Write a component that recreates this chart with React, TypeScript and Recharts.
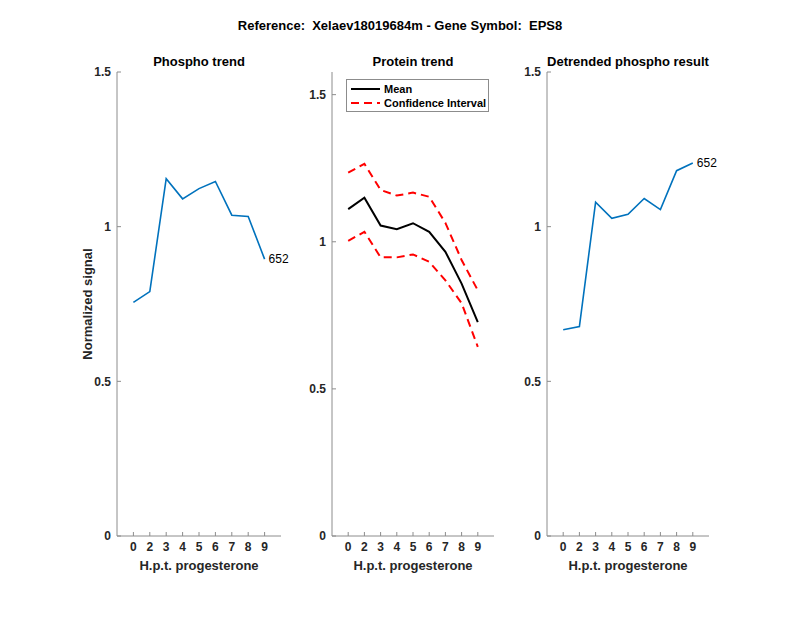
import React from "react";
import { Legend, Line, LineChart, XAxis, YAxis } from "recharts";

const hours = ["0", "2", "3", "4", "5", "6", "7", "8", "9"];
const phospho = [0.755, 0.79, 1.155, 1.09, 1.123, 1.146, 1.037, 1.033, 0.895];
const proteinMean = [1.111, 1.15, 1.055, 1.043, 1.063, 1.034, 0.966, 0.858, 0.727];
const proteinUpper = [1.235, 1.265, 1.176, 1.157, 1.167, 1.153, 1.064, 0.938, 0.835];
const proteinLower = [1.003, 1.034, 0.947, 0.947, 0.957, 0.932, 0.869, 0.791, 0.643];
const detrended = [0.667, 0.677, 1.079, 1.027, 1.04, 1.091, 1.055, 1.181, 1.206];
const yTicks = [0, 0.5, 1, 1.5];
const peptideId = "652";

const FONT = "'Liberation Sans', Arial, sans-serif";
const INK = "#262626";
const AXIS = "#8c8c8c";
const BLUE = "#0072BD";

const rows = hours.map((h, i) => ({
  pos: i + 1,
  phospho: phospho[i],
  mean: proteinMean[i],
  upper: proteinUpper[i],
  lower: proteinLower[i],
  detrended: detrended[i],
}));

const tickStyle = { fontFamily: FONT, fontSize: 12, fontWeight: 700, fill: INK };

function endLabel(props: any) {
  if (props.index !== rows.length - 1) return null;
  return (
    <text x={props.x + 4} y={props.y} dy="0.35em" fontFamily={FONT} fontSize={12} fill="#000">
      {peptideId}
    </text>
  );
}

function Panel({
  plotLeft,
  plotRight,
  yMax,
  children,
}: {
  plotLeft: number;
  plotRight: number;
  yMax: number;
  children: React.ReactNode;
}) {
  return (
    <div style={{ position: "absolute", left: 0, top: 0 }}>
      <LineChart
        width={800}
        height={618}
        data={rows}
        margin={{ top: 72, bottom: 42, left: plotLeft - 40, right: 800 - plotRight }}
      >
        <XAxis
          dataKey="pos"
          type="number"
          domain={[0, 10]}
          ticks={rows.map((r) => r.pos)}
          tickFormatter={(v) => hours[v - 1]}
          height={40}
          stroke={AXIS}
          tickSize={-4}
          tickMargin={10}
          tick={tickStyle}
          interval={0}
        />
        <YAxis
          type="number"
          domain={[0, yMax]}
          ticks={yTicks}
          width={40}
          stroke={AXIS}
          tickSize={-4}
          tickMargin={10}
          tick={tickStyle}
          allowDataOverflow
        />
        {children}
      </LineChart>
    </div>
  );
}

function ProteinLegend() {
  const item = (label: string, color: string, dash?: string) => (
    <div style={{ display: "flex", alignItems: "center", height: 14, whiteSpace: "nowrap" }}>
      <svg width={33} height={6} style={{ marginRight: 2, flexShrink: 0 }}>
        <line x1={2} y1={3} x2={31} y2={3} stroke={color} strokeWidth={2} strokeDasharray={dash} />
      </svg>
      <span>{label}</span>
    </div>
  );
  return (
    <div
      style={{
        width: 143,
        height: 33,
        boxSizing: "border-box",
        border: "1px solid #8c8c8c",
        background: "#fff",
        padding: "2px 0 0 2px",
        fontFamily: FONT,
        fontSize: 11,
        fontWeight: 700,
        color: "#000",
        lineHeight: "14px",
      }}
    >
      {item("Mean", "#000")}
      {item("Confidence Interval", "#ff0000", "8 5")}
    </div>
  );
}

const textBold = { fontFamily: FONT, fontWeight: 700, fill: "#000" } as const;

export default function App() {
  return (
    <div style={{ position: "absolute", left: 0, top: 0, width: 800, height: 618, background: "#fff" }}>
      <Panel plotLeft={117} plotRight={281} yMax={1.5}>
        <Line
          dataKey="phospho"
          type="linear"
          stroke={BLUE}
          strokeWidth={1.6}
          dot={false}
          isAnimationActive={false}
          label={endLabel}
        />
      </Panel>
      <Panel plotLeft={332} plotRight={494} yMax={1.577}>
        <Legend
          layout="vertical"
          align="center"
          verticalAlign="middle"
          wrapperStyle={{ left: 346, top: 79, width: 143, height: 33 }}
          content={() => <ProteinLegend />}
        />
        <Line dataKey="upper" name="Confidence Interval" type="linear" stroke="#ff0000" strokeWidth={2} strokeDasharray="8 5" dot={false} isAnimationActive={false} />
        <Line dataKey="lower" type="linear" stroke="#ff0000" strokeWidth={2} strokeDasharray="8 5" dot={false} isAnimationActive={false} legendType="none" />
        <Line dataKey="mean" name="Mean" type="linear" stroke="#000" strokeWidth={2} dot={false} isAnimationActive={false} />
      </Panel>
      <Panel plotLeft={547} plotRight={709} yMax={1.5}>
        <Line
          dataKey="detrended"
          type="linear"
          stroke={BLUE}
          strokeWidth={1.6}
          dot={false}
          isAnimationActive={false}
          label={endLabel}
        />
      </Panel>
      <svg width={800} height={618} style={{ position: "absolute", left: 0, top: 0, pointerEvents: "none" }}>
        <text x={400} y={30} textAnchor="middle" fontSize={13} style={{ whiteSpace: "pre" }} {...textBold}>
          Reference:  Xelaev18019684m - Gene Symbol:  EPS8
        </text>
        <text x={199} y={66} textAnchor="middle" fontSize={13} {...textBold}>Phospho trend</text>
        <text x={413} y={66} textAnchor="middle" fontSize={13} {...textBold}>Protein trend</text>
        <text x={628} y={66} textAnchor="middle" fontSize={13} {...textBold}>Detrended phospho result</text>
        {[199, 413, 628].map((cx) => (
          <text key={cx} x={cx} y={570} textAnchor="middle" fontSize={13} {...textBold} fill={INK}>
            H.p.t. progesterone
          </text>
        ))}
        <text x={92} y={304} textAnchor="middle" fontSize={13} transform="rotate(-90 92 304)" {...textBold} fill={INK}>
          Normalized signal
        </text>
      </svg>
    </div>
  );
}
